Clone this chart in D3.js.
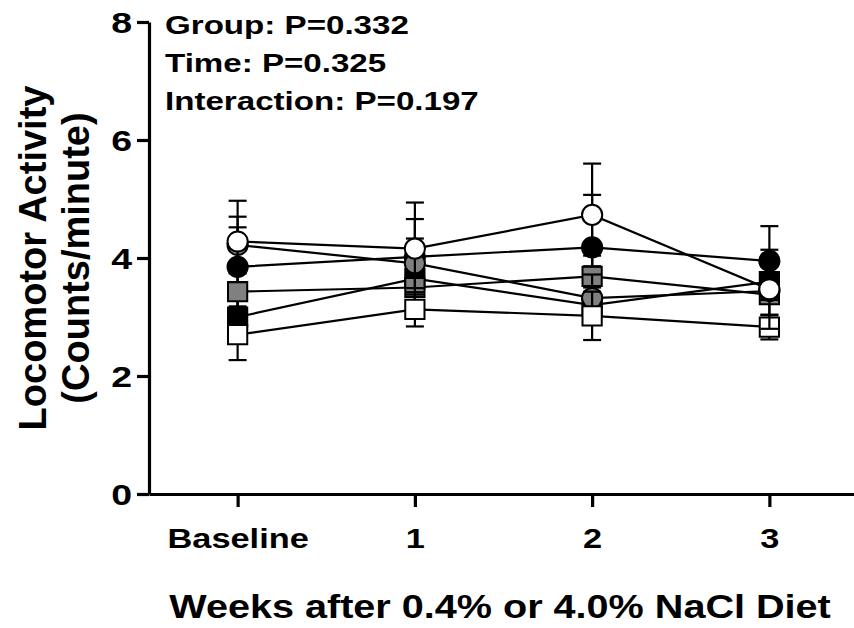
<!DOCTYPE html>
<html><head><meta charset="utf-8">
<script src="https://cdn.jsdelivr.net/npm/d3@7"></script>
<style>
body{margin:0;background:#fff}
text{font-family:"Liberation Sans",Arial,Helvetica,sans-serif;font-weight:bold;fill:#000}
</style>
</head><body>
<svg id="chart" width="854" height="628"></svg>
<script>
// ---------- data ----------
const categories = ["Baseline", "1", "2", "3"];
const yTicks = [0, 2, 4, 6, 8];

const blackCircleMean = [3.85, 4.02, 4.18, 3.95];
const blackCircleSem  = [0.67, 0.64, 0.89, 0.59];
const blackSquareMean = [3.00, 3.65, 3.20, 3.60];
const blackSquareSem  = [0.40, 0.40, 0.30, 0.30];
const graySquareMean  = [3.43, 3.50, 3.69, 3.38];
const graySquareSem   = [0.40, 0.40, 0.35, 0.35];
const grayCircleMean  = [4.22, 3.91, 3.32, 3.44];
const grayCircleSem   = [0.48, 0.42, 0.40, 0.15];
const whiteSquareMean = [2.70, 3.13, 3.02, 2.83];
const whiteSquareSem  = [0.43, 0.29, 0.41, 0.21];
const whiteCircleMean = [4.28, 4.16, 4.73, 3.47];
const whiteCircleSem  = [0.69, 0.78, 0.87, 0.67];

const annotations = ["Group: P=0.332", "Time: P=0.325", "Interaction: P=0.197"];
const xTitle = "Weeks after 0.4% or 4.0% NaCl Diet";
const yTitle = ["Locomotor Activity", "(Counts/minute)"];

// series table (drawing order, bottom to top)
const series = [
  {mean: blackCircleMean, sem: blackCircleSem, shape: d3.symbolCircle, fill: "#000"},
  {mean: blackSquareMean, sem: blackSquareSem, shape: d3.symbolSquare, fill: "#000"},
  {mean: graySquareMean,  sem: graySquareSem,  shape: d3.symbolSquare, fill: "#808080"},
  {mean: grayCircleMean,  sem: grayCircleSem,  shape: d3.symbolCircle, fill: "#808080"},
  {mean: whiteSquareMean, sem: whiteSquareSem, shape: d3.symbolSquare, fill: "#fff"},
  {mean: whiteCircleMean, sem: whiteCircleSem, shape: d3.symbolCircle, fill: "#fff"}
];

// ---------- layout ----------
const S = 1.25; // horizontal stretch of the text
const svg = d3.select("#chart");
const x = d3.scalePoint().domain(categories).range([149, 858]).padding(0.5);
const y = d3.scaleLinear().domain([0, 8]).range([494, 22]);

// axes
const gy = svg.append("g").attr("transform", "translate(149,0)")
  .call(d3.axisLeft(y).tickValues(yTicks).tickSize(12).tickSizeOuter(0).tickFormat(d3.format("d")));
gy.select(".domain").attr("stroke", "#000").attr("stroke-width", 3.2);
gy.selectAll(".tick line").attr("stroke", "#000").attr("stroke-width", 3.2);
gy.selectAll(".tick text")
  .attr("x", -17 / S).attr("dy", "0.36em")
  .attr("transform", `scale(${S},1)`)
  .style("font-size", "30px");

const gx = svg.append("g").attr("transform", "translate(0,494)")
  .call(d3.axisBottom(x).tickSize(13).tickSizeOuter(0));
gx.select(".domain").attr("stroke", "#000").attr("stroke-width", 3.2);
gx.selectAll(".tick line").attr("stroke", "#000").attr("stroke-width", 3.2);
gx.selectAll(".tick text")
  .attr("x", 0).attr("y", 54).attr("dy", 0)
  .attr("transform", `scale(${S},1)`)
  .style("font-size", "27.5px");
svg.selectAll(".tick text").attr("fill", "#000");

// connecting lines
const line = d3.line().x((d, i) => x(categories[i])).y(d => y(d));
svg.append("g").selectAll("path").data(series).join("path")
  .attr("d", s => line(s.mean))
  .attr("fill", "none").attr("stroke", "#000").attr("stroke-width", 2.2);

// error bars + markers per series
const capW = 9;
series.forEach(s => {
  const g = svg.append("g");
  const pts = s.mean.map((m, i) => ({cx: x(categories[i]), m, e: s.sem[i]}));
  const eb = g.append("g").attr("stroke", "#000").attr("stroke-width", 2.2);
  pts.forEach(p => {
    eb.append("line").attr("x1", p.cx).attr("x2", p.cx).attr("y1", y(p.m - p.e)).attr("y2", y(p.m + p.e));
    eb.append("line").attr("x1", p.cx - capW).attr("x2", p.cx + capW).attr("y1", y(p.m + p.e)).attr("y2", y(p.m + p.e));
    eb.append("line").attr("x1", p.cx - capW).attr("x2", p.cx + capW).attr("y1", y(p.m - p.e)).attr("y2", y(p.m - p.e));
  });
  const sym = d3.symbol().type(s.shape).size(s.shape === d3.symbolCircle ? 320 : 370);
  g.selectAll("path.mk").data(pts).join("path").attr("class", "mk")
    .attr("d", sym)
    .attr("transform", p => `translate(${p.cx},${y(p.m)})`)
    .attr("fill", s.fill).attr("stroke", "#000").attr("stroke-width", 2);
});

// annotation text
svg.append("g").selectAll("text").data(annotations).join("text")
  .attr("transform", (d, i) => `translate(165,${34 + i * 38}) scale(${S},1)`)
  .style("font-size", "26.5px")
  .text(d => d);

// x title
svg.append("text")
  .attr("transform", `translate(500,618) scale(1.2,1)`)
  .attr("text-anchor", "middle")
  .style("font-size", "33px")
  .text(xTitle);

// y title
svg.append("g").selectAll("text").data(yTitle).join("text")
  .attr("transform", (d, i) => `translate(${46 + i * 43},258) rotate(-90)`)
  .attr("text-anchor", "middle")
  .style("font-size", "38px")
  .text(d => d);
</script>
</body></html>
